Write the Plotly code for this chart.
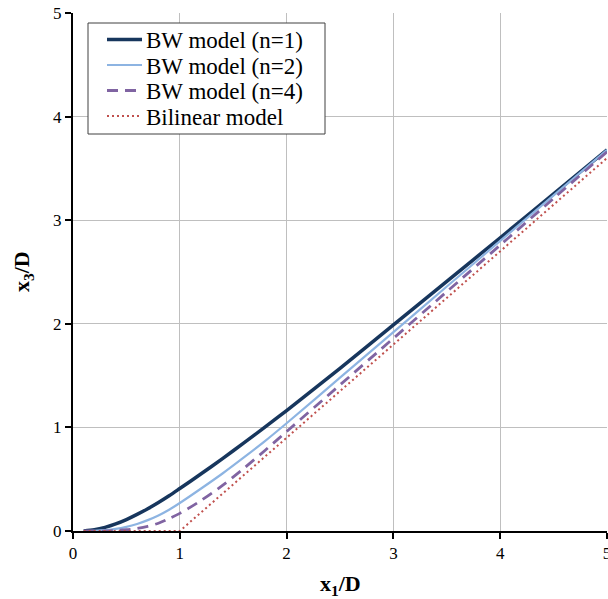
import plotly.graph_objects as go

# Data
x_bw = [0.1, 0.2, 0.3, 0.4, 0.5, 0.6, 0.7, 0.8, 0.9, 1.0, 1.2, 1.4, 1.6, 1.8, 2.0, 2.5, 3.0, 3.5, 4.0, 4.5, 5.0]
y_n1 = [0.000, 0.012, 0.035, 0.068, 0.110, 0.160, 0.215, 0.275, 0.340, 0.410, 0.552, 0.699, 0.850, 1.005, 1.163, 1.570, 1.989, 2.410, 2.830, 3.255, 3.680]
y_n2 = [0.000, 0.002, 0.008, 0.020, 0.040, 0.068, 0.105, 0.150, 0.205, 0.270, 0.410, 0.555, 0.710, 0.870, 1.040, 1.480, 1.920, 2.360, 2.800, 3.240, 3.680]
y_n4 = [0.000, 0.000, 0.000, 0.005, 0.012, 0.025, 0.045, 0.075, 0.120, 0.170, 0.295, 0.440, 0.605, 0.780, 0.960, 1.410, 1.860, 2.310, 2.760, 3.210, 3.660]
x_bil = [0.1, 1.0, 5.0]
y_bil = [0.0, 0.0, 3.6]

names = ["BW model (n=1)", "BW model (n=2)", "BW model (n=4)", "Bilinear model"]
colors = ["#17365D", "#8DB4E2", "#8064A2", "#C0504D"]
widths = [3.5, 2.2, 2.8, 2.0]
dashes = ["solid", "solid", "11px,7px", "2px,3px"]
tick_vals = [0, 1, 2, 3, 4, 5]

FONT = "Liberation Serif"

fig = go.Figure()
series = [(x_bw, y_n1), (x_bw, y_n2), (x_bw, y_n4), (x_bil, y_bil)]
for i, (xs, ys) in enumerate(series):
    fig.add_trace(go.Scatter(
        x=xs, y=ys, mode="lines", name=names[i], showlegend=False,
        line=dict(color=colors[i], width=widths[i], dash=dashes[i],
                  shape="spline" if i < 3 else "linear", smoothing=0.8)))

axis_common = dict(
    range=[0, 5], tickvals=tick_vals, ticktext=[str(v) for v in tick_vals],
    showline=True, linecolor="black", linewidth=2,
    ticks="outside", ticklen=6, tickwidth=1.5, tickcolor="black",
    showgrid=True, gridcolor="#BFBFBF", gridwidth=1.2,
    zeroline=False, automargin=False, ticklabeloverflow="allow",
    tickfont=dict(family=FONT, size=17, color="black"),
)

# Plot area in page pixels: x 73..607, y 13..531
PX0, PX1, PY0, PY1 = 73.0, 607.0, 13.0, 531.0


def px(xp):
    return (xp - PX0) / (PX1 - PX0)


def py(yp):
    return 1 - (yp - PY0) / (PY1 - PY0)


shapes = []
annotations = []
# legend box
shapes.append(dict(type="rect", xref="paper", yref="paper",
                   x0=px(88), x1=px(325), y0=py(134), y1=py(23),
                   line=dict(color="#404040", width=1), fillcolor="white", layer="above"))
leg_y = [39.5, 65.0, 90.5, 116.0]
for i in range(4):
    shapes.append(dict(type="line", xref="paper", yref="paper",
                       x0=px(107), x1=px(142), y0=py(leg_y[i]), y1=py(leg_y[i]),
                       line=dict(color=colors[i], width=widths[i], dash=dashes[i]),
                       layer="above"))
    annotations.append(dict(xref="paper", yref="paper", x=px(144), y=py(leg_y[i] + 1),
                            xanchor="left", yanchor="middle", showarrow=False,
                            text=names[i], font=dict(family=FONT, size=23, color="black")))

annotations.append(dict(xref="paper", yref="paper", x=0.5, y=py(585),
                        xanchor="center", yanchor="middle", showarrow=False,
                        text="<b>x<sub>1</sub>/D</b>",
                        font=dict(family=FONT, size=22, color="black")))
annotations.append(dict(xref="paper", yref="paper", x=px(23), y=0.5,
                        xanchor="center", yanchor="middle", showarrow=False, textangle=-90,
                        text="<b>x<sub>3</sub>/D</b>",
                        font=dict(family=FONT, size=22, color="black")))

fig.update_layout(
    width=608, height=599,
    margin=dict(l=73, r=1, t=13, b=68),
    paper_bgcolor="white", plot_bgcolor="white",
    font=dict(family=FONT, color="black"),
    xaxis=axis_common,
    yaxis=axis_common,
    shapes=shapes,
    annotations=annotations,
    showlegend=False,
)

fig.write_html("out.html",
               config={"displayModeBar": False},
               post_script="document.body.style.margin='0';document.body.style.overflow='hidden';")
